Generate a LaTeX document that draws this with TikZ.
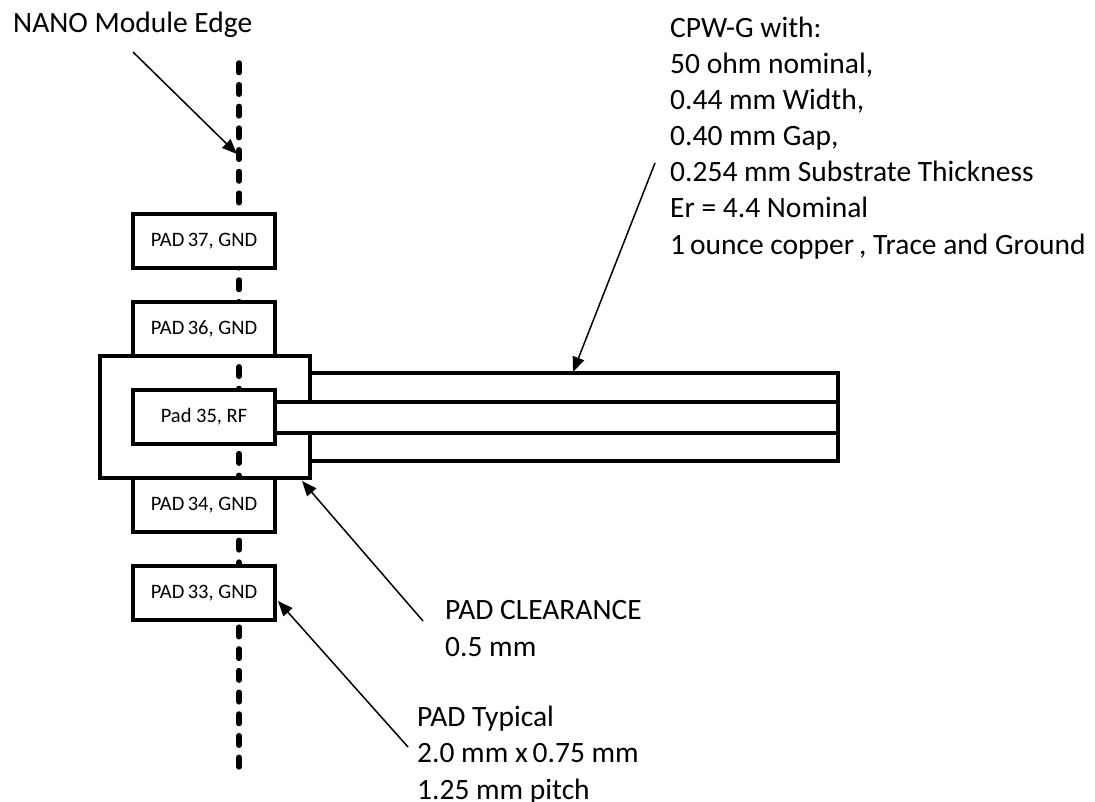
\documentclass[tikz,border=0pt]{standalone}
\usepackage{fontspec}
\setmainfont{Carlito}
\usetikzlibrary{arrows.meta, positioning}

\begin{document}
\begin{tikzpicture}[x=1pt, y=-1pt, node distance=34pt,
                pad/.style = {
                    rectangle, draw=black, fill=white,
                    line width=3.5pt, outer sep=0pt, inner sep=0pt,
                    minimum width=142pt, minimum height=54pt,
                    font=\fontsize{20.5}{25}\selectfont
                },
                note/.style = {
                    inner sep=0pt, align=left,
                    font=\fontsize{29.5}{36.1}\selectfont
                },
                modedge/.style = {
                    draw, line width=5.5pt, line cap=round,
                    dash pattern=on 9.5pt off 12.2pt
                },
                trace/.style = {
                    draw, line width=3.5pt, line join=miter
                },
                pointer/.style = {
                    draw, line width=1.5pt,
                    -{Triangle[length=15pt, width=12pt]}
                }
                ]
                \useasboundingbox (0,0) rectangle (1095,801);

                % module edge
                \coordinate (edgetop) at (239,63);
                \coordinate (edgebot) at (239,772);
                \path[modedge] (edgetop) -- (edgebot);

                % pads
                \node[pad] (p37) at (204,241) {PAD\,37, GND};
                \node[pad, below=of p37] (p36) {PAD\,36, GND};
                \node[pad, below=of p36] (p35) {Pad 35, RF};
                \node[pad, below=of p35] (p34) {PAD\,34, GND};
                \node[pad, below=of p34] (p33) {PAD\,33, GND};

                % clearance and CPW-G
                \coordinate (gapt) at (310,402);
                \coordinate (gapb) at (310,433);
                \coordinate (gndt) at (310,373);
                \coordinate (gndb) at (310,461);
                \coordinate (endt) at (838,373);
                \coordinate (endb) at (838,461);
                \path[trace] (gapt) -- (310,356) -- (100,356) -- (100,478) -- (310,478) -- (gapb);
                \path[trace] (gndt) -- (endt) -- (endb) -- (gndb);
                \path[trace] (p35.east |- gapt) -- (endt |- gapt);
                \path[trace] (p35.east |- gapb) -- (endt |- gapb);

                % labels (base = last line)
                \node[note, anchor=base west] (edgelbl) at (13,32) {NANO Module Edge};
                \node[note, anchor=base west] (cpwlbl) at (670,254) {CPW-G with:\\
                    50 ohm nominal,\\
                    0.44 mm Width,\\
                    0.40 mm Gap,\\
                    0.254 mm Substrate Thickness\\
                    Er = 4.4 Nominal\\
                    1\,ounce copper\,, Trace and Ground};
                \node[note, anchor=base west] (clrlbl) at (445,656) {PAD CLEARANCE\\0.5 mm};
                \node[note, anchor=base west] (typlbl) at (417,799) {PAD Typical\\2.0 mm x\,0.75 mm\\1.25 mm pitch};

                % pointers
                \coordinate (edgefrom) at (133,52);
                \coordinate (edgeto) at (237,154);
                \coordinate (cpwfrom) at (655,163);
                \coordinate (cpwto) at (573,372);
                \coordinate (clrfrom) at (423,621);
                \coordinate (clrto) at (302,481);
                \coordinate (typfrom) at (408,747);
                \coordinate (typto) at (278,601);
                \path[pointer] (edgefrom) -- (edgeto);
                \path[pointer] (cpwfrom) -- (cpwto);
                \path[pointer] (clrfrom) -- (clrto);
                \path[pointer] (typfrom) -- (typto);
            \end{tikzpicture}
\end{document}
